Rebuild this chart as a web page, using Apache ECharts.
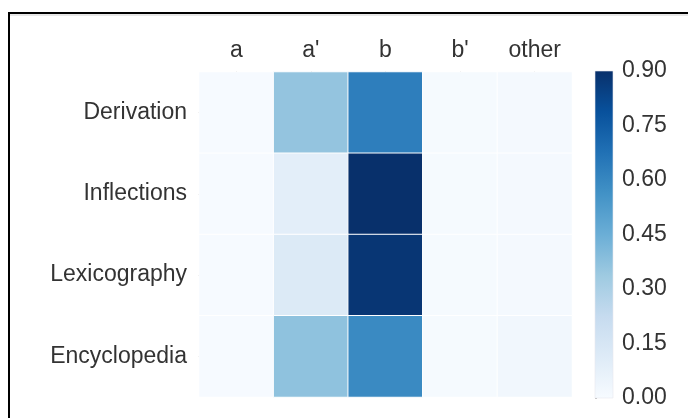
<!DOCTYPE html>
<html>
<head>
<meta charset="utf-8">
<script src="https://cdn.jsdelivr.net/npm/echarts@6/dist/echarts.min.js"></script>
<style>
  html, body { margin: 0; padding: 0; background: #fff; }
  #chart { width: 688px; height: 418px; }
</style>
</head>
<body>
<div id="chart"></div>
<script>
// Column and row categories
const columns = ['a', "a'", 'b', "b'", 'other'];
const rows = ['Derivation', 'Inflections', 'Lexicography', 'Encyclopedia'];

// Share per row, one value per column
const derivation   = [0.005, 0.36, 0.63, 0.008, 0.015];
const inflections  = [0.005, 0.09, 0.90, 0.008, 0.015];
const lexicography = [0.005, 0.12, 0.88, 0.008, 0.015];
const encyclopedia = [0.005, 0.37, 0.59, 0.008, 0.025];

// Colour bar range and ticks
const scaleMin = 0;
const scaleMax = 0.9;
const scaleStep = 0.15;

// Sequential blue ramp
const blues = ['#f7fbff', '#deebf7', '#c6dbef', '#9ecae1', '#6baed6',
               '#4292c6', '#2171b5', '#08519c', '#08306b'];

const rowValues = [derivation, inflections, lexicography, encyclopedia];
const cells = [];
rowValues.forEach((vals, r) => {
  vals.forEach((v, c) => cells.push([c, r, v]));
});

const textColor = '#333';
const font = 'Liberation Sans, Arial, Helvetica, sans-serif';

// Colour bar geometry
const barLeft = 595, barTop = 71, barWidth = 18, barHeight = 327;

// Gradient for the colour bar: dark at the top, light at the bottom
const barStops = blues.map((c, i) => ({ offset: 1 - i / (blues.length - 1), color: c }))
                      .reverse();

const chart = echarts.init(document.getElementById('chart'), null, { renderer: 'canvas' });
chart.setOption({
  animation: false,
  backgroundColor: '#fff',
  graphic: [
    { type: 'line', shape: { x1: 9, y1: 15, x2: 700, y2: 15 },
      style: { stroke: '#cfcfcf', lineWidth: 1 }, silent: true },
    { type: 'rect', shape: { x: 9, y: 13, width: 720, height: 460 },
      style: { fill: 'none', stroke: '#000', lineWidth: 2 }, silent: true },
    { type: 'rect', shape: { x: barLeft, y: barTop, width: barWidth, height: barHeight },
      style: {
        fill: new echarts.graphic.LinearGradient(0, 0, 0, 1, barStops),
        stroke: '#e8e8ee', lineWidth: 0.6
      }, silent: true, z: 10 }
  ],
  grid: [
    { left: 199, top: 72, width: 373, height: 325 },
    { left: barLeft, top: barTop, width: barWidth, height: barHeight }
  ],
  xAxis: [
    {
      type: 'category', data: columns, position: 'top', gridIndex: 0,
      axisLine: { show: false },
      axisTick: { show: true, alignWithLabel: true, length: 1, lineStyle: { color: '#bbb' } },
      axisLabel: { color: textColor, fontSize: 23, fontFamily: font, margin: 10 },
      splitLine: { show: false }
    },
    { type: 'value', gridIndex: 1, show: false, min: 0, max: 1 }
  ],
  yAxis: [
    {
      type: 'category', data: rows, inverse: true, gridIndex: 0,
      axisLine: { show: false },
      axisTick: { show: true, alignWithLabel: true, length: 1, lineStyle: { color: '#bbb' } },
      axisLabel: { color: textColor, fontSize: 23, fontFamily: font, margin: 12 },
      splitLine: { show: false }
    },
    {
      type: 'value', gridIndex: 1, position: 'right',
      min: scaleMin, max: scaleMax, interval: scaleStep,
      axisLine: { show: false },
      axisTick: { show: true, length: 2, lineStyle: { color: '#bbb' } },
      axisLabel: { color: textColor, fontSize: 23, fontFamily: font, margin: 9,
                   formatter: v => v.toFixed(2) },
      splitLine: { show: false }
    }
  ],
  visualMap: {
    type: 'continuous',
    show: false,
    min: scaleMin, max: scaleMax,
    seriesIndex: 0,
    inRange: { color: blues }
  },
  series: [{
    type: 'heatmap',
    xAxisIndex: 0, yAxisIndex: 0,
    data: cells,
    itemStyle: { borderColor: '#fff', borderWidth: 1 },
    label: { show: false }
  }]
});
</script>
</body>
</html>
